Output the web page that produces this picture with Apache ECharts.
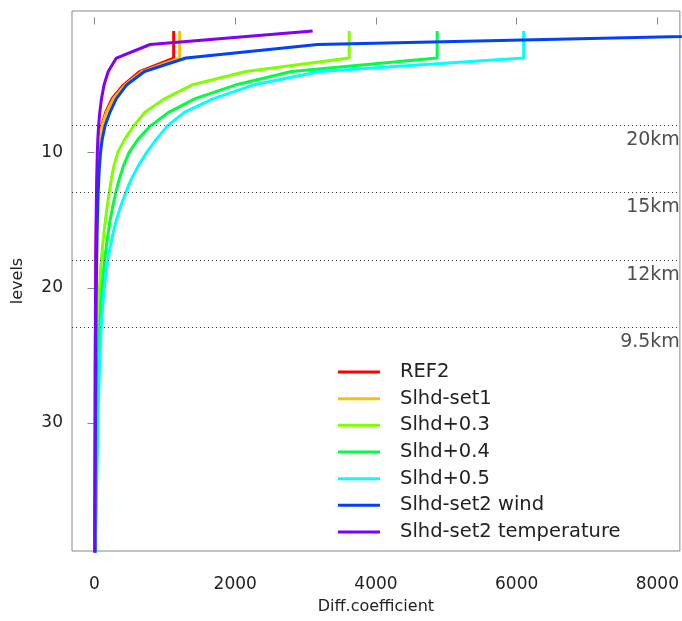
<!DOCTYPE html>
<html><head><meta charset="utf-8">
<script src="https://cdn.jsdelivr.net/npm/echarts@6/dist/echarts.min.js"></script>
<style>html,body{margin:0;padding:0;background:#fff}#c{width:682px;height:621px}</style>
</head><body><div id="c"></div>
<script>
const levels = [1,2,3,4,5,6,7,8,9,10,11,12,13,14,15,16,17,18,19,20,21,22,23,24,25,26,27,28,29,30,31,32,33,34,35,36,37,38,39,40];
const seriesNames = ['REF2','Slhd-set1','Slhd+0.3','Slhd+0.4','Slhd+0.5','Slhd-set2 wind','Slhd-set2 temperature'];
const seriesColors = ['#FF0000','#FFBF00','#80FF00','#00FF40','#00FFFF','#0040FF','#8000FF'];
const ref2 = [1125,1125,1125,640,410,250,160,100,72,56,46,39,34,30,27,24,22,20,18,17,16,15,14,13,12,11,11,10,10,9,9,8,8,7,7,6,6,5,5,5];
const set1 = [1210,1210,1210,680,435,270,172,108,78,60,49,42,36,32,29,26,24,22,20,18,17,16,15,14,13,12,12,11,11,10,10,9,9,8,8,7,7,6,6,6];
const plus03 = [3620,3620,3620,2150,1380,1000,720,560,430,330,275,238,208,180,155,133,113,96,82,71,62,55,48,43,39,35,32,29,26,24,22,20,18,16,14,12,10,8,7,7];
const plus04 = [4870,4870,4870,2800,2000,1430,1060,800,620,490,410,350,300,258,222,192,166,143,124,108,95,84,74,66,60,54,49,45,41,37,34,31,28,25,22,19,16,13,11,10];
const plus05 = [6100,6100,6100,3200,2250,1690,1280,1040,880,740,620,520,440,370,310,262,222,188,160,140,122,108,95,85,77,70,64,58,53,48,44,40,36,32,28,24,20,16,13,12];
const set2wind = [11800,3170,1300,710,455,310,220,150,110,85,70,60,52,46,41,37,34,31,28,26,24,22,21,20,19,18,17,16,15,14,13,12,11,10,9,8,7,6,6,6];
const set2temp = [3100,790,310,195,135,100,75,58,47,40,35,31,28,25,23,21,19,17,16,15,14,13,12,11,11,10,10,9,9,8,8,7,7,6,6,5,5,5,5,5];
const xTicks = [0,2000,4000,6000,8000];
const yTicks = [10,20,30];
const dottedLevels = [7.95,12.95,17.95,22.95];
const kmLevels = [9.05,14.05,19.05,24.05];
const kmLabels = ['20km','15km','12km','9.5km'];

const allValues = [ref2,set1,plus03,plus04,plus05,set2wind,set2temp];
const FONT = 'DejaVu Sans';
const XMIN = -320, XMAX = 8320;

const chart = echarts.init(document.getElementById('c'), null, {renderer:'canvas'});
const lineSeries = allValues.map((vals, i) => ({
  name: seriesNames[i],
  type: 'line',
  data: vals.map((v, j) => [v, levels[j]]),
  showSymbol: false,
  symbol: 'none',
  clip: true,
  color: seriesColors[i],
  lineStyle: {width: 3, color: seriesColors[i]},
  emphasis: {disabled: true},
  animation: false
}));

const option = {
  animation: false,
  backgroundColor: '#fff',
  grid: {left: 72, top: 11, width: 608, height: 540, show: true, borderColor: '#888', borderWidth: 1, backgroundColor: 'transparent'},
  xAxis: {
    type: 'value', min: XMIN, max: XMAX,
    axisLine: {show: false},
    splitLine: {show: false},
    axisTick: {show: true, length: 7, lineStyle: {color: '#888'}, customValues: xTicks},
    axisLabel: {customValues: xTicks, formatter: v => String(v), margin: 25, fontSize: 17, color: '#222', fontFamily: FONT},
    name: 'Diff.coefficient', nameLocation: 'middle', nameGap: 48,
    nameTextStyle: {fontSize: 16, color: '#222', fontFamily: FONT}
  },
  yAxis: {
    type: 'value', inverse: true, min: -0.48, max: 39.48,
    axisLine: {show: false},
    splitLine: {show: false},
    axisTick: {show: true, length: 7, lineStyle: {color: '#888'}, customValues: yTicks},
    axisLabel: {customValues: yTicks, formatter: v => String(v), margin: 9, fontSize: 17, color: '#222', fontFamily: FONT},
    name: 'levels', nameLocation: 'middle', nameGap: 46, nameRotate: 90,
    nameTextStyle: {fontSize: 16, color: '#222', fontFamily: FONT}
  },
  legend: {
    data: seriesNames,
    orient: 'vertical', left: 333, top: 357,
    itemWidth: 42, itemHeight: 3, itemGap: 6.67, icon: 'rect',
    selectedMode: false,
    textStyle: {fontSize: 19.5, lineHeight: 20, color: '#222', fontFamily: FONT, padding: [0,0,0,15]}
  },
  series: [{
    name: 'km', type: 'scatter', symbolSize: 0, silent: true,
    data: kmLevels.map((l, i) => [XMAX, l, kmLabels[i]]),
    label: {show: true, position: 'left', distance: 0, formatter: p => p.value[2], fontSize: 19, color: '#222', fontFamily: FONT},
    markLine: {
      silent: true, symbol: ['none','none'], animation: false,
      label: {show: false},
      lineStyle: {type: [1,3], color: '#333', width: 1},
      data: dottedLevels.map(l => ({yAxis: l}))
    }
  }].concat(lineSeries)
};
chart.setOption(option);
</script></body></html>
